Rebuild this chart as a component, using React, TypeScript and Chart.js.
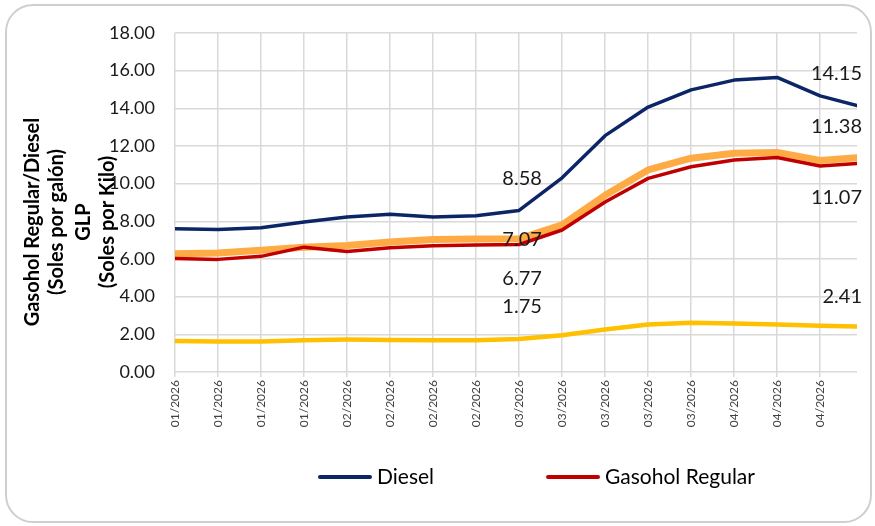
import React, { useEffect, useRef } from 'react';
import { Chart, registerables } from 'chart.js';

Chart.register(...registerables);

// ---- data ----
const dates = [
  '2026-01-05', '2026-01-12', '2026-01-19', '2026-01-26',
  '2026-02-02', '2026-02-09', '2026-02-16', '2026-02-23',
  '2026-03-02', '2026-03-09', '2026-03-16', '2026-03-23', '2026-03-30',
  '2026-04-06', '2026-04-13', '2026-04-20', '2026-04-26',
];
const xTickLabels = [
  '01/2026', '01/2026', '01/2026', '01/2026',
  '02/2026', '02/2026', '02/2026', '02/2026',
  '03/2026', '03/2026', '03/2026', '03/2026', '03/2026',
  '04/2026', '04/2026', '04/2026',
];
const yTicks = [0, 2, 4, 6, 8, 10, 12, 14, 16, 18];

const diesel = [7.61, 7.56, 7.66, 7.96, 8.23, 8.37, 8.23, 8.30, 8.58, 10.31, 12.55, 14.07, 14.98, 15.50, 15.64, 14.66, 14.15];
const gasoholRegular = [6.03, 5.98, 6.14, 6.63, 6.40, 6.60, 6.71, 6.74, 6.77, 7.54, 9.03, 10.28, 10.90, 11.26, 11.39, 10.94, 11.07];
const gasoholPremium = [6.28, 6.32, 6.46, 6.63, 6.72, 6.90, 7.03, 7.06, 7.07, 7.81, 9.38, 10.73, 11.35, 11.62, 11.66, 11.23, 11.38];
const glp = [1.65, 1.62, 1.62, 1.69, 1.72, 1.70, 1.69, 1.69, 1.75, 1.95, 2.26, 2.52, 2.61, 2.57, 2.52, 2.45, 2.41];

const titleLeft = ['Gasohol Regular/Diesel', '(Soles por galón)'];
const titleRight = ['GLP', '(Soles por Kilo)'];

const FONT = 'Lato, "Open Sans", sans-serif';
const DAY = 86400000;
const dayOffset = (d: string) => Math.round((Date.parse(d) - Date.parse(dates[0])) / DAY);
const xs = dates.map(dayOffset);
const toPoints = (arr: number[]) => arr.map((y, i) => ({ x: xs[i], y }));

// data labels: dataset index, point index, vertical offset, horizontal align
const labelSpecs = [
  { ds: 0, idx: 8, dy: -32, align: 'center' },
  { ds: 0, idx: 16, dy: -32, align: 'right' },
  { ds: 2, idx: 8, dy: 1, align: 'center' },
  { ds: 2, idx: 16, dy: -31, align: 'right' },
  { ds: 1, idx: 8, dy: 34, align: 'center' },
  { ds: 1, idx: 16, dy: 34, align: 'right' },
  { ds: 3, idx: 8, dy: -32, align: 'center' },
  { ds: 3, idx: 16, dy: -30, align: 'right' },
];

const dataLabelsPlugin = {
  id: 'dataLabelsCustom',
  afterDatasetsDraw(chart: any) {
    const ctx = chart.ctx;
    ctx.save();
    ctx.font = `20px ${FONT}`;
    ctx.fillStyle = '#1a1a1a';
    ctx.textBaseline = 'middle';
    labelSpecs.forEach((s) => {
      const meta = chart.getDatasetMeta(s.ds);
      const pt = meta.data[s.idx];
      const v = chart.data.datasets[s.ds].data[s.idx].y;
      const text = v.toFixed(2);
      if (s.align === 'right') {
        ctx.textAlign = 'right';
        ctx.fillText(text, pt.x + 5, pt.y + s.dy);
      } else {
        ctx.textAlign = 'center';
        ctx.fillText(text, pt.x + 3, pt.y + s.dy);
      }
    });
    ctx.restore();
  },
};

const axisTitlesPlugin = {
  id: 'axisTitlesCustom',
  afterDraw(chart: any) {
    const ctx = chart.ctx;
    ctx.save();
    ctx.font = `bold 20px ${FONT}`;
    ctx.fillStyle = '#000';
    ctx.textAlign = 'center';
    ctx.textBaseline = 'middle';
    const cy = 222;
    const draw = (lines: string[], x0: number) => {
      lines.forEach((t, i) => {
        ctx.save();
        ctx.translate(x0 + i * 24, cy);
        ctx.rotate(-Math.PI / 2);
        ctx.fillText(t, 0, 0);
        ctx.restore();
      });
    };
    draw(titleLeft, 33);
    draw(titleRight, 84);
    ctx.restore();
  },
};

const legendPlugin = {
  id: 'legendCustom',
  afterDraw(chart: any) {
    const ctx = chart.ctx;
    ctx.save();
    ctx.font = `21px ${FONT}`;
    ctx.textBaseline = 'middle';
    ctx.textAlign = 'left';
    const y = 477;
    let x = 320;
    chart.data.datasets.filter((d: any) => d.showInLegend).forEach((d: any) => {
      ctx.strokeStyle = d.borderColor;
      ctx.lineWidth = 4;
      ctx.lineCap = 'round';
      ctx.beginPath();
      ctx.moveTo(x, y);
      ctx.lineTo(x + 50, y);
      ctx.stroke();
      ctx.fillStyle = '#000';
      ctx.fillText(d.label, x + 57, y);
      x += 57 + ctx.measureText(d.label).width + 114;
    });
    ctx.restore();
  },
};

export default function App() {
  const ref = useRef<HTMLCanvasElement | null>(null);
  useEffect(() => {
    if (!ref.current) return;
    const common = { pointRadius: 0, pointHoverRadius: 0, tension: 0, borderCapStyle: 'round', borderJoinStyle: 'round', fill: false };
    const chart = new Chart(ref.current, {
      type: 'line',
      data: {
        datasets: [
          { ...common, label: 'Diesel', data: toPoints(diesel), borderColor: '#0b2566', borderWidth: 3.5, showInLegend: true } as any,
          { ...common, label: 'Gasohol Regular', data: toPoints(gasoholRegular), borderColor: '#c00000', borderWidth: 3.5, showInLegend: true } as any,
          { ...common, label: 'Gasohol Premium', data: toPoints(gasoholPremium), borderColor: '#ffab45', borderWidth: 7, showInLegend: false } as any,
          { ...common, label: 'GLP', data: toPoints(glp), borderColor: '#ffc000', borderWidth: 4.5, showInLegend: false } as any,
        ],
      },
      options: {
        responsive: false,
        animation: false,
        devicePixelRatio: 1,
        layout: { padding: { left: 0, right: 18, top: 33, bottom: 94 } },
        plugins: { legend: { display: false }, tooltip: { enabled: false } },
        scales: {
          x: {
            type: 'linear',
            min: 0,
            max: xs[xs.length - 1],
            afterFit: (s: any) => { s.height = 60; },
            border: { display: false },
            grid: { color: '#d9d9d9', lineWidth: 1.5, drawTicks: true, tickLength: 5, tickColor: '#d9d9d9' },
            ticks: {
              stepSize: 7,
              includeBounds: false,
              autoSkip: false,
              maxTicksLimit: 100,
              maxRotation: 90,
              minRotation: 90,
              padding: 3,
              color: '#404040',
              font: { family: FONT, size: 12 },
              callback: (v: any) => xTickLabels[Math.round(Number(v) / 7)] ?? '',
            },
          },
          y: {
            min: yTicks[0],
            max: yTicks[yTicks.length - 1],
            afterFit: (s: any) => { s.width = 175; },
            border: { display: false },
            grid: { color: '#d9d9d9', lineWidth: 1.5, drawTicks: false },
            ticks: {
              stepSize: yTicks[1] - yTicks[0],
              padding: 20,
              color: '#1a1a1a',
              font: { family: FONT, size: 18 },
              callback: (v: any) => Number(v).toFixed(2),
            },
          },
        },
      } as any,
      plugins: [dataLabelsPlugin, axisTitlesPlugin, legendPlugin],
    });
    return () => chart.destroy();
  }, []);

  return (
    <div style={{ position: 'fixed', left: 0, top: 0, width: 875, height: 526, background: '#fff' }}>
      <canvas ref={ref} width={875} height={526} style={{ display: 'block', width: 875, height: 526 }} />
      <div
        style={{
          position: 'absolute', left: 5, top: 4, width: 867, height: 519,
          border: '2px solid #cfcfcf', borderRadius: 28, boxSizing: 'border-box', pointerEvents: 'none',
        }}
      />
    </div>
  );
}
